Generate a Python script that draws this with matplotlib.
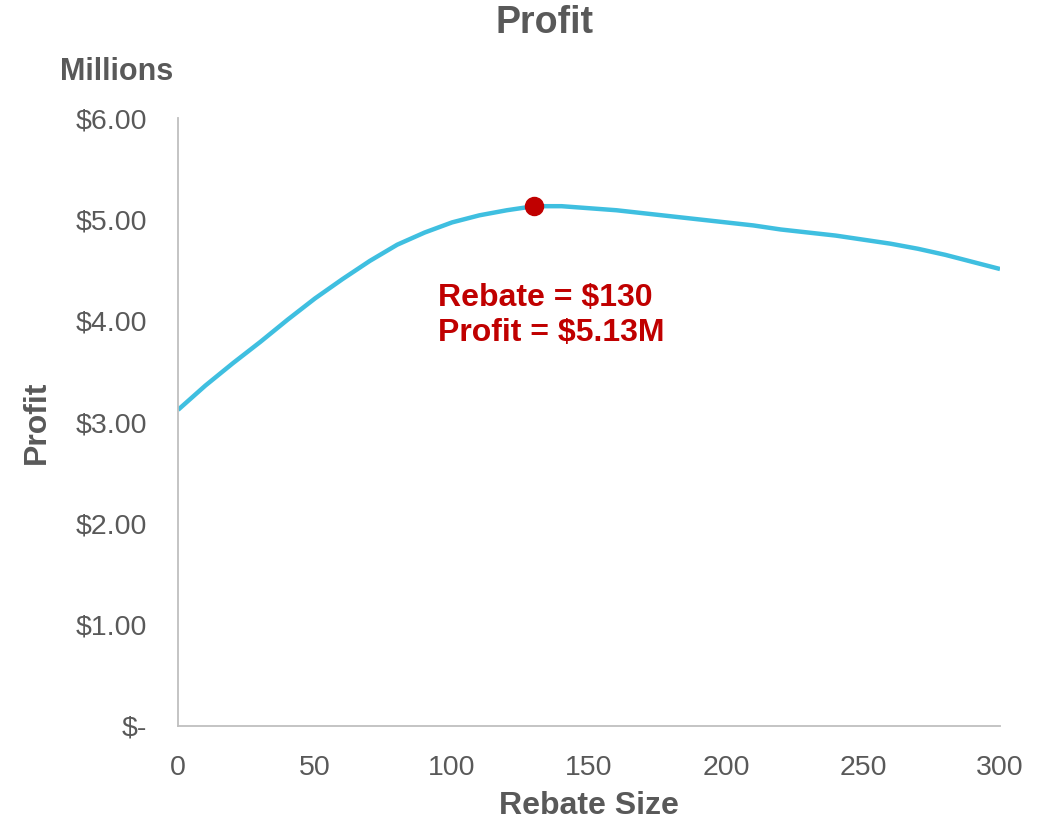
import matplotlib.pyplot as plt
from matplotlib.ticker import FuncFormatter

plt.rcParams['font.family'] = ['Liberation Sans', 'DejaVu Sans']

# rebate size (dollars) and profit (millions)
rebate = list(range(0, 301, 10))
profit = [3.12, 3.36, 3.58, 3.79, 4.01, 4.22, 4.41, 4.59, 4.75, 4.87,
          4.97, 5.04, 5.09, 5.13, 5.13, 5.11, 5.09, 5.06, 5.03, 5.00,
          4.97, 4.94, 4.90, 4.87, 4.84, 4.80, 4.76, 4.71, 4.65, 4.58,
          4.51]
best_rebate = 130
best_profit = 5.13

GRAY = "#595959"
LINE = "#3fbfe0"
RED = "#c00000"

fig = plt.figure(figsize=(10.51, 8.22), dpi=100)
ax = fig.add_axes([0.1694, 0.1168, 0.9515 - 0.1694, 0.8564 - 0.1168])

ax.plot(rebate, profit, color=LINE, lw=3.2, solid_capstyle="butt", zorder=2)
ax.plot([best_rebate], [best_profit], "o", color=RED, ms=13, zorder=3)
ax.text(95, 4.05, "Rebate = $%d\nProfit = $%.2fM" % (best_rebate, best_profit),
        color=RED, fontsize=23, fontweight="bold", ha="left", va="center",
        linespacing=1.2)

ax.set_xlim(0, 300)
ax.set_ylim(0, 6)
ax.set_xticks(range(0, 301, 50))
ax.set_yticks(range(0, 7))
ax.yaxis.set_major_formatter(FuncFormatter(lambda v, p: "$-" if v == 0 else "$%.2f" % v))
ax.tick_params(length=0, labelsize=20.5, colors=GRAY)
ax.tick_params(axis="y", pad=22)
ax.tick_params(axis="x", pad=21)

for s in ["top", "right"]:
    ax.spines[s].set_visible(False)
for s in ["left", "bottom"]:
    ax.spines[s].set_color("#bfbfbf")
    ax.spines[s].set_linewidth(1.3)

fig.text(0.518, 0.972, "Profit", color=GRAY, fontsize=27, fontweight="bold",
         ha="center", va="center")
fig.text(0.1113, 0.912, "Millions", color=GRAY, fontsize=22, fontweight="bold",
         ha="center", va="center")
fig.text(0.035, 0.486, "Profit", color=GRAY, fontsize=23, fontweight="bold",
         ha="center", va="center", rotation=90)
fig.text(0.5605, 0.019, "Rebate Size", color=GRAY, fontsize=23, fontweight="bold",
         ha="center", va="center")

fig.savefig("out.png", dpi=100)
